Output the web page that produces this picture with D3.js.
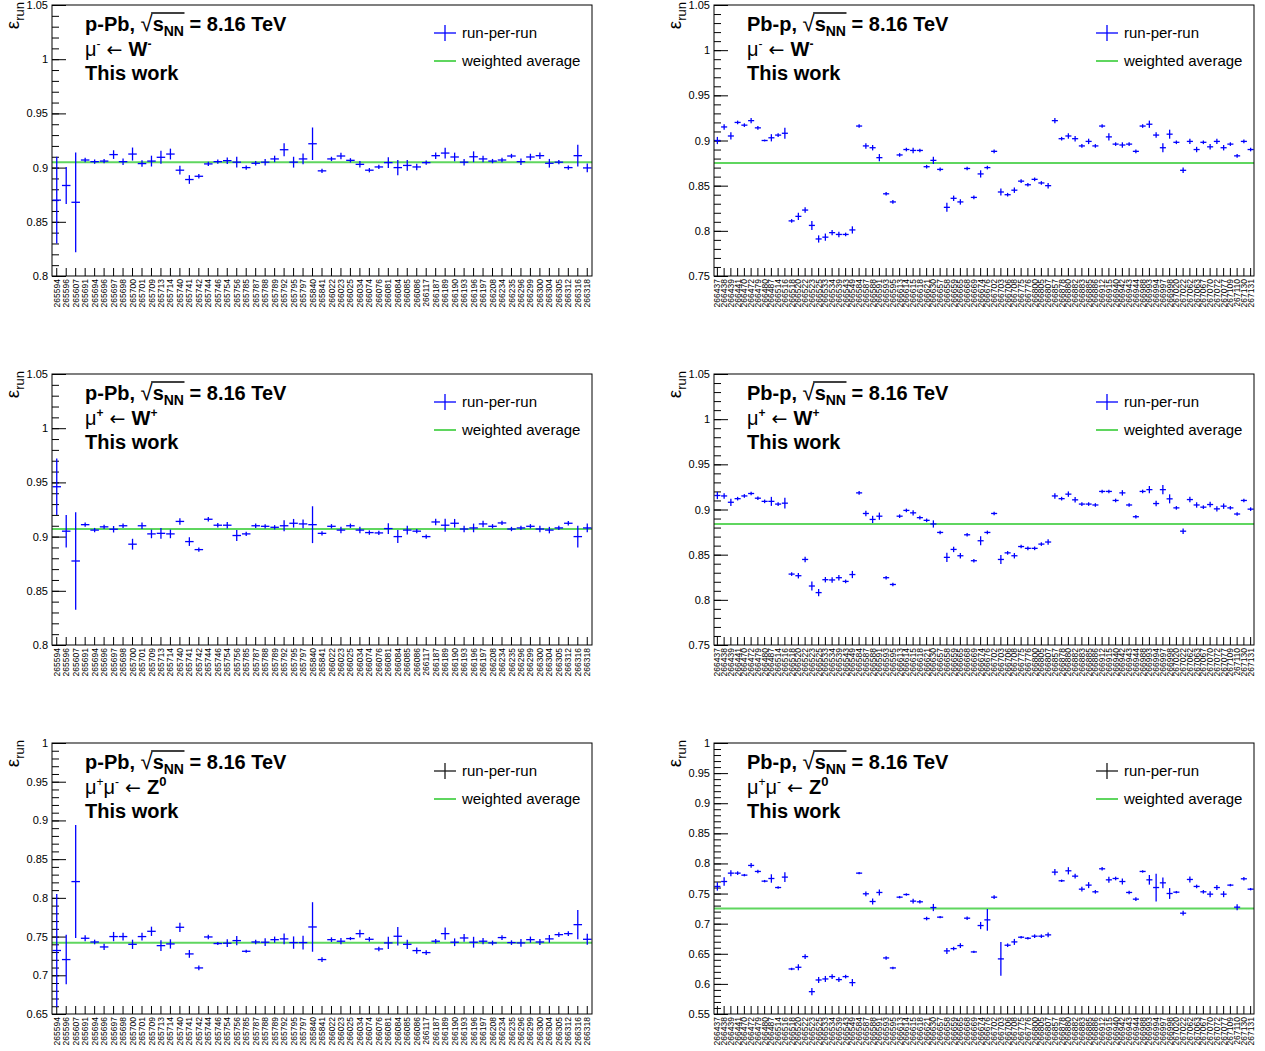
<!DOCTYPE html>
<html><head><meta charset="utf-8">
<script src="https://cdn.jsdelivr.net/npm/d3@7"></script>
<style>
body{margin:0;background:#fff}
svg{display:block}
text{font-family:"Liberation Sans",Arial,Helvetica,sans-serif}
</style>
</head><body>
<svg id="c" width="1265" height="1051"></svg>
<script>
// ---------------- DATA ----------------
const runsPPb = ["265594","265596","265607","265691","265694","265696","265697","265698","265700","265701",
"265709","265713","265714","265740","265741","265742","265744","265746","265754","265756",
"265785","265787","265788","265789","265792","265795","265797","265840","265841","266022",
"266023","266025","266034","266074","266076","266081","266084","266085","266086","266117",
"266187","266189","266190","266193","266196","266197","266208","266234","266235","266296",
"266299","266300","266304","266305","266312","266316","266318"];

const runsPbP = ["266437","266438","266439","266441","266470","266472","266479","266480","266487","266514",
"266516","266518","266520","266522","266523","266525","266533","266534","266539","266543",
"266549","266584","266587","266588","266591","266593","266595","266613","266614","266615",
"266618","266621","266630","266657","266658","266659","266665","266668","266669","266674",
"266676","266702","266703","266706","266708","266775","266776","266800","266805","266807",
"266857","266878","266880","266882","266883","266885","266886","266912","266915","266940",
"266942","266943","266944","266988","266993","266994","266997","266998","267020","267022",
"267062","267063","267067","267070","267072","267077","267109","267110","267130","267131"];

// p-Pb, mu- <- W-
const effPPbWm = [0.870,0.8835,0.868,0.907,0.9055,0.906,0.912,0.9055,0.9125,0.9037,
0.906,0.9095,0.9125,0.8976,0.889,0.892,0.9034,0.9055,0.9064,0.905,
0.900,0.904,0.905,0.908,0.9165,0.905,0.908,0.922,0.897,0.908,
0.9107,0.9067,0.903,0.8976,0.9006,0.9046,0.900,0.902,0.9006,0.9046,
0.911,0.9134,0.9098,0.905,0.910,0.908,0.906,0.907,0.9107,0.9055,
0.9098,0.911,0.904,0.905,0.900,0.911,0.8997];
const errPPbWm = [0.04,0.017,0.046,0.002,0.002,0.002,0.004,0.003,0.006,0.003,
0.005,0.006,0.005,0.004,0.004,0.002,0.002,0.002,0.003,0.005,
0.002,0.002,0.003,0.003,0.006,0.005,0.005,0.015,0.002,0.002,
0.003,0.002,0.003,0.002,0.002,0.005,0.007,0.005,0.003,0.002,
0.003,0.005,0.004,0.003,0.005,0.003,0.002,0.002,0.002,0.003,
0.003,0.003,0.004,0.002,0.002,0.01,0.004];
const avgPPbWm = 0.905;

// Pb-p, mu- <- W-
const effPbPWm = [0.900,0.915,0.905,0.920,0.917,0.922,0.914,0.900,0.903,0.906,
0.908,0.811,0.816,0.823,0.806,0.791,0.793,0.798,0.796,0.796,
0.801,0.916,0.894,0.892,0.881,0.841,0.832,0.884,0.890,0.889,
0.889,0.871,0.878,0.868,0.826,0.836,0.832,0.869,0.837,0.863,
0.870,0.888,0.843,0.840,0.845,0.855,0.851,0.857,0.853,0.850,
0.922,0.902,0.905,0.902,0.894,0.899,0.894,0.916,0.904,0.896,
0.895,0.896,0.888,0.916,0.918,0.906,0.892,0.907,0.898,0.867,
0.899,0.890,0.898,0.893,0.899,0.892,0.896,0.883,0.899,0.890];
const errPbPWm = [0.004,0.003,0.004,0.002,0.002,0.003,0.002,0.001,0.004,0.002,
0.006,0.002,0.004,0.003,0.005,0.004,0.004,0.003,0.003,0.002,
0.004,0.002,0.003,0.003,0.004,0.002,0.002,0.002,0.002,0.003,
0.002,0.002,0.004,0.002,0.005,0.003,0.003,0.002,0.002,0.004,
0.002,0.002,0.004,0.002,0.003,0.002,0.002,0.002,0.002,0.003,
0.003,0.002,0.003,0.003,0.002,0.003,0.002,0.002,0.004,0.002,
0.003,0.002,0.002,0.002,0.004,0.003,0.005,0.005,0.002,0.003,
0.003,0.003,0.002,0.003,0.003,0.003,0.002,0.002,0.002,0.002];
const avgPbPWm = 0.875;

// p-Pb, mu+ <- W+
const effPPbWp = [0.946,0.905,0.8775,0.911,0.906,0.909,0.9068,0.910,0.893,0.910,
0.9025,0.903,0.9025,0.914,0.8954,0.888,0.916,0.9105,0.9105,0.901,
0.9025,0.910,0.9095,0.9086,0.910,0.9123,0.9117,0.911,0.903,0.9095,
0.906,0.910,0.906,0.9037,0.9034,0.9074,0.900,0.906,0.905,0.900,
0.9135,0.9105,0.9123,0.907,0.908,0.9117,0.9095,0.9126,0.907,0.908,
0.9095,0.907,0.906,0.908,0.9123,0.900,0.908];
const errPPbWp = [0.026,0.015,0.045,0.002,0.002,0.002,0.003,0.002,0.005,0.003,
0.004,0.005,0.004,0.003,0.004,0.002,0.002,0.002,0.003,0.005,
0.002,0.002,0.002,0.002,0.005,0.004,0.004,0.017,0.002,0.002,
0.003,0.002,0.003,0.002,0.002,0.005,0.006,0.004,0.002,0.002,
0.003,0.006,0.004,0.003,0.004,0.003,0.002,0.002,0.002,0.002,
0.002,0.003,0.003,0.002,0.002,0.010,0.004];
const avgPPbWp = 0.907;

// Pb-p, mu+ <- W+
const effPbPWp = [0.9155,0.915,0.908,0.912,0.915,0.9177,0.9125,0.909,0.909,0.906,
0.907,0.8285,0.8267,0.8447,0.8153,0.808,0.8223,0.822,0.8245,0.8204,
0.828,0.9184,0.8956,0.889,0.8926,0.8245,0.817,0.8926,0.899,0.8963,
0.891,0.888,0.884,0.8746,0.847,0.8558,0.8488,0.872,0.8433,0.8654,
0.8746,0.8956,0.8447,0.852,0.8488,0.859,0.857,0.857,0.8617,0.864,
0.915,0.912,0.917,0.9107,0.906,0.906,0.905,0.920,0.920,0.910,
0.9184,0.905,0.892,0.920,0.922,0.9066,0.922,0.9118,0.9018,0.876,
0.911,0.905,0.9026,0.9055,0.9007,0.9037,0.9018,0.895,0.910,0.9004];
const errPbPWp = [0.004,0.003,0.004,0.002,0.002,0.002,0.002,0.002,0.005,0.002,
0.006,0.002,0.003,0.003,0.005,0.004,0.003,0.003,0.003,0.002,
0.004,0.002,0.003,0.004,0.004,0.002,0.002,0.002,0.002,0.003,
0.002,0.002,0.004,0.002,0.005,0.003,0.003,0.002,0.002,0.005,
0.002,0.002,0.005,0.002,0.003,0.002,0.002,0.002,0.002,0.003,
0.003,0.002,0.003,0.003,0.002,0.002,0.002,0.002,0.002,0.002,
0.003,0.002,0.002,0.002,0.004,0.003,0.005,0.005,0.002,0.003,
0.003,0.003,0.002,0.003,0.003,0.003,0.002,0.002,0.002,0.002];
const avgPbPWp = 0.884;

// p-Pb, mu+mu- <- Z0
const effPPbZ = [0.732,0.7203,0.821,0.7478,0.743,0.7366,0.750,0.750,0.740,0.750,
0.7568,0.7383,0.7405,0.762,0.7276,0.7095,0.7495,0.741,0.7414,0.7448,
0.731,0.743,0.7427,0.746,0.747,0.7422,0.7422,0.7624,0.7203,0.746,
0.744,0.7474,0.7538,0.7465,0.734,0.7418,0.7504,0.740,0.7319,0.7293,
0.744,0.7538,0.7427,0.7482,0.7427,0.744,0.7418,0.7487,0.7422,0.7418,
0.746,0.743,0.747,0.7525,0.7538,0.7654,0.7465];
const errPPbZ = [0.073,0.032,0.073,0.004,0.003,0.004,0.006,0.005,0.006,0.005,
0.006,0.007,0.006,0.006,0.005,0.003,0.003,0.002,0.005,0.006,
0.002,0.003,0.005,0.004,0.007,0.008,0.009,0.032,0.003,0.003,
0.004,0.002,0.005,0.003,0.003,0.008,0.012,0.006,0.004,0.003,
0.003,0.008,0.005,0.005,0.007,0.004,0.003,0.003,0.003,0.005,
0.004,0.004,0.005,0.003,0.003,0.019,0.007];
const avgPPbZ = 0.742;

// Pb-p, mu+mu- <- Z0
const effPbPZ = [0.7618,0.770,0.7839,0.7839,0.7806,0.7967,0.7867,0.7706,0.775,0.760,
0.7773,0.6248,0.6276,0.6453,0.5871,0.6065,0.6082,0.6121,0.6071,0.6121,
0.6021,0.7839,0.7496,0.7368,0.7518,0.6431,0.6265,0.744,0.7484,0.7374,
0.7363,0.7085,0.7268,0.7108,0.6548,0.6586,0.6636,0.7091,0.6531,0.6969,
0.7063,0.744,0.6415,0.6642,0.6697,0.6775,0.6758,0.6792,0.6792,0.6814,
0.7856,0.7712,0.7878,0.7789,0.7573,0.764,0.7529,0.7911,0.7728,0.775,
0.770,0.7518,0.7407,0.7867,0.7728,0.760,0.7678,0.7501,0.7523,0.7174,
0.7734,0.7618,0.7529,0.749,0.760,0.749,0.764,0.7274,0.7745,0.7573];
const errPbPZ = [0.007,0.007,0.005,0.003,0.002,0.004,0.003,0.002,0.007,0.002,
0.008,0.002,0.005,0.004,0.006,0.005,0.005,0.004,0.004,0.003,
0.006,0.002,0.004,0.005,0.005,0.003,0.002,0.002,0.002,0.004,
0.003,0.003,0.006,0.002,0.005,0.003,0.004,0.003,0.002,0.006,
0.018,0.003,0.028,0.003,0.005,0.002,0.002,0.003,0.003,0.004,
0.005,0.002,0.006,0.004,0.004,0.005,0.003,0.003,0.005,0.003,
0.005,0.003,0.003,0.002,0.008,0.023,0.009,0.009,0.002,0.004,
0.005,0.003,0.003,0.005,0.004,0.005,0.002,0.005,0.003,0.002];
const avgPbPZ = 0.725;

const yDomPPbW = [0.8, 1.05], yDomPbPW = [0.75, 1.05], yDomPPbZ = [0.65, 1.0], yDomPbPZ = [0.55, 1.0];
const systems = ["p-Pb", "Pb-p"];
const legendLabels = ["run-per-run", "weighted average"];

// ---------------- LAYOUT ----------------
const panels = [
  {col:0,row:0,sys:systems[0],runs:runsPPb,vals:effPPbWm,errs:errPPbWm,avg:avgPPbWm,dom:yDomPPbW,proc:"Wm"},
  {col:1,row:0,sys:systems[1],runs:runsPbP,vals:effPbPWm,errs:errPbPWm,avg:avgPbPWm,dom:yDomPbPW,proc:"Wm"},
  {col:0,row:1,sys:systems[0],runs:runsPPb,vals:effPPbWp,errs:errPPbWp,avg:avgPPbWp,dom:yDomPPbW,proc:"Wp"},
  {col:1,row:1,sys:systems[1],runs:runsPbP,vals:effPbPWp,errs:errPbPWp,avg:avgPbPWp,dom:yDomPbPW,proc:"Wp"},
  {col:0,row:2,sys:systems[0],runs:runsPPb,vals:effPPbZ,errs:errPPbZ,avg:avgPPbZ,dom:yDomPPbZ,proc:"Z"},
  {col:1,row:2,sys:systems[1],runs:runsPbP,vals:effPbPZ,errs:errPbPZ,avg:avgPbPZ,dom:yDomPbPZ,proc:"Z"},
];
const colX = [52, 714], rowY = [5, 374, 743];
const W = 540, H = 271;
const BLUE = "#0000ff", GREEN = "#5fd65f";
const ARROWFONT = "DejaVu Sans, sans-serif";

const svg = d3.select("#c");
const fmt = d => String(+d.toFixed(2));

panels.forEach(p => {
  const L = colX[p.col], T = rowY[p.row];
  const g = svg.append("g").attr("transform", `translate(${L},${T})`);
  const x = d3.scaleBand().domain(p.runs).range([0, W]).padding(0);
  const y = d3.scaleLinear().domain(p.dom).range([H, 0]);
  const bw = x.bandwidth();

  const nMaj = Math.round((p.dom[1]-p.dom[0])/0.05);
  const major = d3.range(nMaj+1).map(i => +(p.dom[0] + i*0.05).toFixed(3));
  const nMin = Math.round((p.dom[1]-p.dom[0])/0.01);
  const minor = d3.range(nMin+1).map(i => +(p.dom[0] + i*0.01).toFixed(3));

  // minor y ticks
  g.append("g").call(d3.axisLeft(y).tickValues(minor).tickSize(-7).tickFormat(""))
    .call(a => a.select(".domain").remove())
    .selectAll("line").attr("stroke","#000");
  // major y ticks
  const ya = g.append("g").call(d3.axisLeft(y).tickValues(major).tickSize(-14).tickPadding(4).tickFormat(fmt));
  ya.select(".domain").remove();
  ya.selectAll("text").attr("font-size", 11).attr("fill","#000").attr("font-family","Liberation Sans, Arial, sans-serif");

  // x axis
  const xa = g.append("g").attr("transform", `translate(0,${H})`)
    .call(d3.axisBottom(x).tickSize(-8).tickFormat(d => d));
  xa.select(".domain").remove();
  xa.selectAll("text")
    .attr("transform","rotate(-90)")
    .attr("x", -3).attr("y", 0).attr("dy","0.36em")
    .attr("text-anchor","end")
    .attr("font-size", 8.5).attr("fill","#000")
    .attr("font-family","Liberation Sans, Arial, sans-serif");

  // average line
  g.append("line").attr("x1",0).attr("x2",W).attr("y1",y(p.avg)).attr("y2",y(p.avg))
    .attr("stroke",GREEN).attr("stroke-width",2);

  // points
  const pts = g.append("g").attr("stroke",BLUE).attr("stroke-width",1.3);
  p.runs.forEach((r,i) => {
    const cx = x(r) + bw/2, v = p.vals[i], e = p.errs[i];
    pts.append("line").attr("x1",cx).attr("x2",cx).attr("y1",y(v-e)).attr("y2",y(v+e));
    pts.append("line").attr("x1",x(r)+bw*0.05).attr("x2",x(r)+bw*0.95).attr("y1",y(v)).attr("y2",y(v));
  });

  // frame
  g.append("rect").attr("x",0).attr("y",0).attr("width",W).attr("height",H)
    .attr("fill","none").attr("stroke","#000").attr("stroke-width",1);

  // y-axis title
  const yt = g.append("text").attr("transform",`translate(${-33},${-3}) rotate(-90)`)
    .attr("text-anchor","end").attr("font-size",19);
  yt.append("tspan").text("ε");
  yt.append("tspan").attr("font-size",13).attr("dy",5).text("run");

  // titles
  const tx = 33, ty = 26, FS = 20;
  const t1 = g.append("text").attr("x",tx).attr("y",ty).attr("font-size",FS).attr("font-weight","bold");
  const pre = p.sys + ", ";
  t1.append("tspan").text(pre);
  t1.append("tspan").attr("font-weight","normal").attr("font-size",22).text("√");
  t1.append("tspan").text("s");
  t1.append("tspan").attr("font-size",14).attr("dy",5).text("NN");
  t1.append("tspan").attr("dy",-5).text(" = 8.16 TeV");
  const node = t1.node();
  const eR = node.getExtentOfChar(pre.length);
  const eN = node.getExtentOfChar(pre.length + 3);
  g.append("line").attr("x1",eR.x+eR.width-1.5).attr("x2",eN.x+eN.width+0.5)
    .attr("y1",ty-18).attr("y2",ty-18).attr("stroke","#000").attr("stroke-width",1.3);

  const t2 = g.append("text").attr("x",tx).attr("y",ty+25).attr("font-size",FS);
  const arrow = sel => sel.append("tspan").attr("font-family",ARROWFONT).attr("font-size",19).text(" ← ");
  if (p.proc === "Z") {
    t2.append("tspan").text("μ");
    t2.append("tspan").attr("font-size",12).attr("dy",-8).text("+");
    t2.append("tspan").attr("dy",8).text("μ");
    t2.append("tspan").attr("font-size",12).attr("dy",-8).text("-");
    arrow(t2).attr("dy",8);
    t2.append("tspan").attr("font-weight","bold").text("Z");
    t2.append("tspan").attr("font-size",13).attr("font-weight","bold").attr("dy",-8).text("0");
  } else {
    const s = p.proc === "Wm" ? "-" : "+";
    t2.append("tspan").text("μ");
    t2.append("tspan").attr("font-size",12).attr("dy",-8).attr("font-weight", s==="+"?"bold":"normal").text(s);
    arrow(t2).attr("dy",8);
    t2.append("tspan").attr("font-weight","bold").text("W");
    t2.append("tspan").attr("font-size",12).attr("font-weight","bold").attr("dy",-8).text(s);
  }
  g.append("text").attr("x",tx).attr("y",ty+49).attr("font-size",FS).attr("font-weight","bold").text("This work");

  // legend
  const lx = 382, ly1 = 28, ly2 = 56;
  const cross = p.proc === "Z" ? "#1a1a1a" : BLUE;
  g.append("line").attr("x1",lx).attr("x2",lx+22).attr("y1",ly1).attr("y2",ly1).attr("stroke",cross).attr("stroke-width",1.3);
  g.append("line").attr("x1",lx+11).attr("x2",lx+11).attr("y1",ly1-8).attr("y2",ly1+8).attr("stroke",cross).attr("stroke-width",1.3);
  g.append("text").attr("x",lx+28).attr("y",ly1+5).attr("font-size",15).text(legendLabels[0]);
  g.append("line").attr("x1",lx).attr("x2",lx+22).attr("y1",ly2).attr("y2",ly2).attr("stroke",GREEN).attr("stroke-width",2);
  g.append("text").attr("x",lx+28).attr("y",ly2+5).attr("font-size",15).text(legendLabels[1]);
});
</script>
</body></html>
